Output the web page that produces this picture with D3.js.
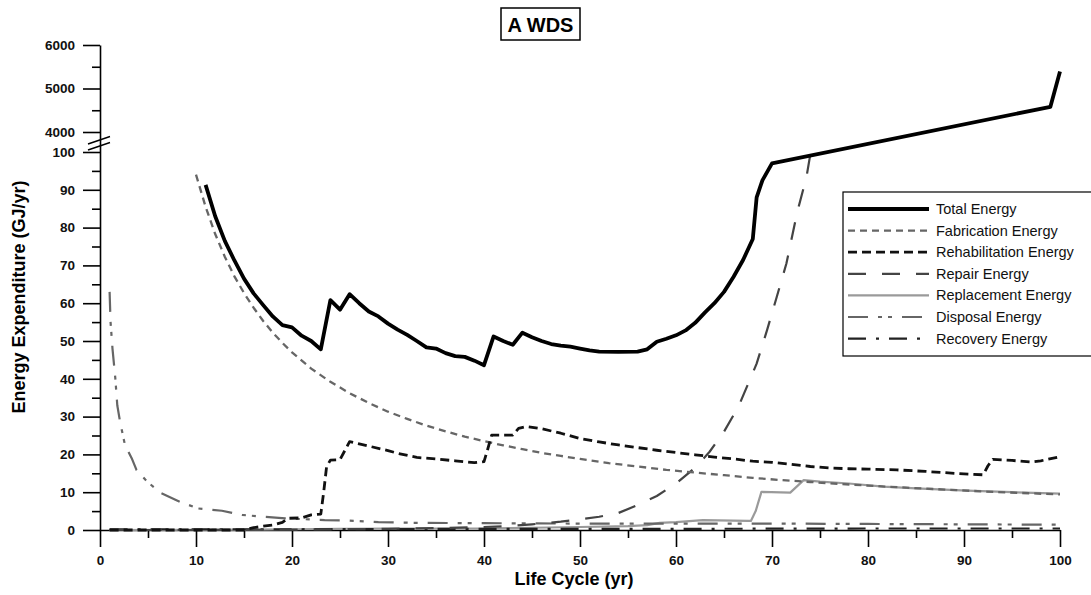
<!DOCTYPE html>
<html>
<head>
<meta charset="utf-8">
<script src="https://cdn.jsdelivr.net/npm/d3@7"></script>
<style>
    body { margin: 0; background: #fff; }
    svg { font-family: Arial, 'Liberation Sans', sans-serif; }
</style>
</head>
<body>
<div id="chart"></div>
<script>
const chartTitle = 'A WDS'
const xTicks = [0, 10, 20, 30, 40, 50, 60, 70, 80, 90, 100]
const xMinorTicks = [5, 15, 25, 35, 45, 55, 65, 75, 85, 95]
const yTicks = [0, 10, 20, 30, 40, 50, 60, 70, 80, 90, 100, 4000, 5000, 6000]
const yMinorTicks = [5, 15, 25, 35, 45, 55, 65, 75, 85, 95, 4500, 5500]

const totalEnergy = [[11, 91.3], [12, 83], [13, 76.5], [14, 71.3], [15, 66.5], [16, 62.6], [17, 59.5],
    [18, 56.5], [19, 54.2], [20, 53.6], [21, 51.4], [22, 50], [23, 47.8], [24, 60.8], [25, 58.3],
    [26, 62.4], [27, 60], [28, 57.8], [29, 56.5], [30, 54.6], [31, 53], [32, 51.6], [33, 50],
    [34, 48.3], [35, 48], [36, 46.8], [37, 46], [38, 45.8], [39, 44.8], [40, 43.6], [41, 51.2],
    [42, 50], [43, 49], [44, 52.2], [45, 51], [46, 50], [47, 49.2], [48, 48.8], [49, 48.5],
    [50, 48], [51, 47.5], [52, 47.2], [54, 47.1], [56, 47.2], [57, 47.8], [58, 49.8], [59, 50.6],
    [60, 51.5], [61, 52.8], [62, 54.8], [63, 57.5], [64, 60], [65, 63], [66, 67], [67, 71.5],
    [68, 77], [68.4, 88], [69, 92.5], [70, 97], [99, 4580], [100, 5390]]
const fabricationEnergy = [[10, 94], [11, 85.5], [12, 78.3], [13, 72.3], [14, 67.1], [15, 62.7],
    [16, 58.8], [17, 55.3], [18, 52.2], [19, 49.5], [20, 47], [22, 42.7], [24, 39.2], [26, 36.2],
    [28, 33.6], [30, 31.3], [32, 29.4], [34, 27.6], [36, 26.1], [38, 24.7], [40, 23.5], [42, 22.4],
    [44, 21.4], [46, 20.4], [48, 19.6], [50, 18.8], [53, 17.7], [56, 16.8], [59, 15.9], [62, 15.2],
    [65, 14.5], [68, 13.8], [71, 13.2], [74, 12.7], [77, 12.2], [80, 11.75], [84, 11.2], [88, 10.7],
    [92, 10.2], [96, 9.8], [100, 9.4]]
const rehabilitationEnergy = [[1, 0], [15, 0], [16, 0.6], [17, 1], [18, 1.3], [19, 2], [19.6, 3.1],
    [21, 3.2], [22, 4], [23, 4.2], [23.3, 10], [23.6, 16.7], [24, 18.5], [25, 18.6], [26, 23.4],
    [27, 22.8], [28, 22.2], [30, 21], [31, 20.3], [33, 19.2], [35, 18.8], [37, 18.3], [39, 17.8],
    [40, 18.1], [40.4, 21.5], [40.8, 25.1], [43, 25.1], [43.6, 26.9], [44.4, 27.4], [46, 26.8],
    [48, 25.6], [50, 24.2], [52, 23.3], [54, 22.5], [56, 21.8], [58, 21.1], [60, 20.5], [62, 19.9],
    [64, 19.3], [66, 18.8], [68, 18.2], [70, 17.9], [72, 17.4], [74, 16.8], [76, 16.4], [78, 16.2],
    [80, 16.1], [83, 15.9], [86, 15.5], [89, 15], [92, 14.6], [92.5, 17], [93, 18.7], [95, 18.4],
    [97, 18], [98, 18.3], [100, 19.4]]
const repairEnergy = [[1, 0], [10, 0], [20, 0.1], [30, 0.3], [35, 0.5], [40, 0.8], [43, 1.1],
    [45, 1.5], [48, 2.2], [50, 2.8], [52, 3.5], [54, 4.5], [56, 6.6], [58, 9], [60, 12.3],
    [62, 16.5], [63.5, 20.7], [65, 26], [66.5, 32.6], [68.4, 44], [69.5, 53], [70.5, 61.7],
    [71.5, 70.5], [72.6, 83.8], [73.6, 93.5], [74, 99.5]]
const replacementEnergy = [[1, 0], [15, 0.1], [20, 0.2], [25, 0.3], [30, 0.4], [40, 0.4],
    [45, 0.6], [50, 0.8], [55, 1], [57, 1.3], [58.3, 1.9], [60, 2.1], [62.8, 2.6], [67.5, 2.4],
    [67.8, 2.4], [68.3, 5], [68.9, 10.1], [71.9, 9.9], [73.3, 13.2], [75, 12.8], [78, 12.3],
    [81.6, 11.5], [85, 11], [90.3, 10.4], [95, 10], [100, 9.6]]
const disposalEnergy = [[1, 63], [1.1, 55], [1.3, 48], [1.6, 40], [1.8, 33], [2.1, 28.5],
    [2.6, 22.5], [3.3, 19], [3.8, 15.9], [4.9, 12.8], [6.4, 9.7], [8.3, 7.5], [10.2, 5.7],
    [12.7, 5.1], [14.8, 4], [17, 3.5], [19.3, 3.1], [23.4, 2.6], [25.9, 2.5], [29, 2.1],
    [32.5, 1.9], [40, 1.8], [50, 1.7], [60, 1.7], [70, 1.7], [80, 1.6], [90, 1.5], [100, 1.4]]
const recoveryEnergy = [[1, 0.2], [20, 0.2], [40, 0.3], [60, 0.3], [80, 0.4], [100, 0.4]]

const seriesList = [
    { name: 'Total Energy', data: totalEnergy, color: '#000', width: 3.8, dash: null },
    { name: 'Fabrication Energy', data: fabricationEnergy, color: '#666', width: 2.3, dash: '7,5' },
    { name: 'Rehabilitation Energy', data: rehabilitationEnergy, color: '#111', width: 2.8, dash: '9,5' },
    { name: 'Repair Energy', data: repairEnergy, color: '#444', width: 2.2, dash: '18,16' },
    { name: 'Replacement Energy', data: replacementEnergy, color: '#9a9a9a', width: 2.2, dash: null },
    { name: 'Disposal Energy', data: disposalEnergy, color: '#666', width: 2.2, dash: '20,10,4,6,4,10' },
    { name: 'Recovery Energy', data: recoveryEnergy, color: '#222', width: 2.2, dash: '18,10,3,10' }
]
const drawOrder = [4, 6, 5, 3, 1, 2, 0]

const width = 1091
const height = 595

const svg = d3.select('#chart').append('svg')
    .attr('width', width)
    .attr('height', height)

const x = d3.scaleLinear().domain([0, 100]).range([100, 1060])
// broken y axis: 0-100 below, 4000-6000 above, squeezed gap between
const y = d3.scaleLinear().domain([0, 100, 4000, 6000]).range([530, 152, 132, 45])

// title box
svg.append('rect')
    .attr('x', 501)
    .attr('y', 8)
    .attr('width', 79)
    .attr('height', 32)
    .attr('fill', 'none')
    .attr('stroke', '#000')
    .attr('stroke-width', 1.5)
svg.append('text')
    .attr('x', 540.5)
    .attr('y', 32)
    .attr('text-anchor', 'middle')
    .attr('font-size', '20px')
    .attr('font-weight', 'bold')
    .text(chartTitle)

// axes
svg.append('g')
    .attr('transform', 'translate(0,530)')
    .call(d3.axisBottom(x).tickValues(xTicks).tickSize(17).tickSizeOuter(0).tickPadding(8))
svg.append('g')
    .attr('transform', 'translate(0,530)')
    .call(d3.axisBottom(x).tickValues(xMinorTicks).tickSize(8).tickFormat(''))
    .call(g => g.select('.domain').remove())

svg.append('g')
    .attr('transform', 'translate(100,0)')
    .call(d3.axisLeft(y).tickValues(yTicks).tickSize(17).tickSizeOuter(0).tickPadding(8).tickFormat(d3.format('d')))
svg.append('g')
    .attr('transform', 'translate(100,0)')
    .call(d3.axisLeft(y).tickValues(yMinorTicks).tickSize(8).tickFormat(''))
    .call(g => g.select('.domain').remove())

svg.selectAll('.domain, .tick line')
    .attr('stroke', '#000')
    .attr('stroke-width', 1.6)
svg.selectAll('.tick text')
    .attr('font-size', '13.5px')
    .attr('font-weight', 'bold')
    .attr('font-family', 'Arial, Liberation Sans, sans-serif')
    .attr('fill', '#111')

// break marks on the y axis
svg.append('line')
    .attr('x1', 88).attr('y1', 144)
    .attr('x2', 110).attr('y2', 136.5)
    .attr('stroke', '#000').attr('stroke-width', 1.4)
svg.append('line')
    .attr('x1', 88).attr('y1', 150)
    .attr('x2', 110).attr('y2', 142.5)
    .attr('stroke', '#000').attr('stroke-width', 1.4)

// axis titles
svg.append('text')
    .attr('x', 574)
    .attr('y', 585)
    .attr('text-anchor', 'middle')
    .attr('font-size', '18px')
    .attr('font-weight', 'bold')
    .text('Life Cycle (yr)')
svg.append('text')
    .attr('transform', 'translate(25,297) rotate(-90)')
    .attr('text-anchor', 'middle')
    .attr('font-size', '18px')
    .attr('font-weight', 'bold')
    .text('Energy Expenditure (GJ/yr)')

// series
const line = d3.line()
    .x(d => x(d[0]))
    .y(d => y(d[1]))

drawOrder.forEach(i => {
    const s = seriesList[i]
    svg.append('path')
        .datum(s.data)
        .attr('d', line)
        .attr('fill', 'none')
        .attr('stroke', s.color)
        .attr('stroke-width', s.width)
        .attr('stroke-linejoin', 'round')
        .attr('stroke-dasharray', s.dash)
})

// legend
const legend = svg.append('g')
legend.append('rect')
    .attr('x', 843)
    .attr('y', 192)
    .attr('width', 260)
    .attr('height', 164)
    .attr('fill', '#fff')
    .attr('stroke', '#000')
    .attr('stroke-width', 1.2)

seriesList.forEach((s, i) => {
    const ly = 209 + i * 21.6
    legend.append('line')
        .attr('x1', 848)
        .attr('x2', 929)
        .attr('y1', ly)
        .attr('y2', ly)
        .attr('stroke', s.color)
        .attr('stroke-width', s.width)
        .attr('stroke-dasharray', s.dash)
    legend.append('text')
        .attr('x', 936)
        .attr('y', ly + 5)
        .attr('font-size', '14.5px')
        .attr('fill', '#111')
        .text(s.name)
})
</script>
</body>
</html>
